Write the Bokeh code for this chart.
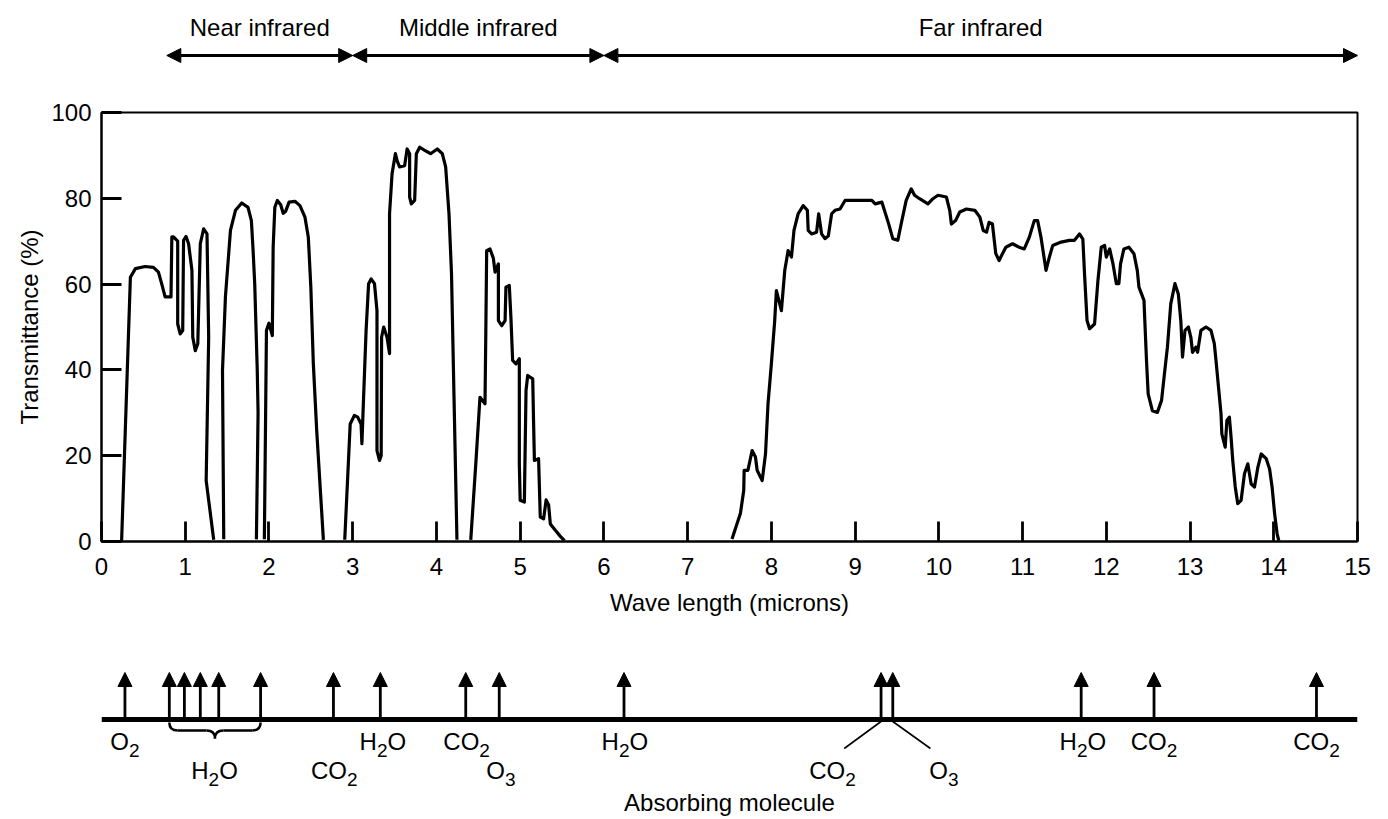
from bokeh.plotting import figure
from bokeh.layouts import column
from bokeh.models import Range1d, FixedTicker, Arrow, NormalHead, ColumnDataSource, Span
from bokeh.core.properties import value
from bokeh.embed import file_html
from bokeh.resources import INLINE

FONT = "Liberation Sans"

# ---------------- data ----------------
# transmittance curve, as separate pieces (microns, %)
seg1_wl = [0.24, 0.345, 0.405, 0.52, 0.62, 0.68, 0.72, 0.76, 0.83, 0.84, 0.86, 0.91, 0.91, 0.94, 0.97,
           0.98, 1.01, 1.04, 1.08, 1.09, 1.12, 1.15, 1.18, 1.22, 1.26, 1.28, 1.25, 1.34]
seg1_tr = [0, 61.6, 63.6, 64.1, 63.9, 62.8, 60, 57, 57, 71, 71, 70, 50.7, 48.4, 49.2,
           70.2, 71.1, 69.4, 63.2, 47.6, 44.5, 46.1, 69.4, 72.9, 71.7, 47.6, 14.2, 0.4]

seg2_wl = [1.46, 1.445, 1.48, 1.54, 1.60, 1.675, 1.75, 1.79, 1.81, 1.83, 1.86, 1.87, 1.85]
seg2_tr = [0.5, 39.9, 57, 72.5, 77.2, 78.9, 77.9, 74.8, 68, 60, 40, 30, 0.5]

seg3_wl = [1.945, 1.97, 2.0, 2.04, 2.05, 2.07, 2.10, 2.14, 2.17, 2.20, 2.24, 2.31, 2.37, 2.43, 2.47,
           2.50, 2.53, 2.57, 2.65]
seg3_tr = [0.5, 49.2, 50.9, 48, 68.6, 77.9, 79.5, 78.5, 76.5, 77, 79.1, 79.3, 78.3, 75.6, 70.9,
           59.3, 41.4, 25.9, 0.4]

seg4_wl = [2.905, 2.97, 3.02, 3.06, 3.10, 3.11, 3.13, 3.16, 3.19, 3.22, 3.26, 3.29, 3.29, 3.32, 3.34,
           3.345, 3.37, 3.41, 3.44, 3.44, 3.47, 3.51, 3.53, 3.56, 3.62, 3.65, 3.68, 3.68, 3.70, 3.74,
           3.76, 3.80, 3.86, 3.93, 4.01, 4.07, 4.11, 4.15, 4.18, 4.21, 4.245]
seg4_tr = [0.4, 27.4, 29.4, 29, 27.4, 22.8, 33.6, 49.2, 60.1, 61.2, 60.1, 53.8, 21.2, 18.9, 20,
           47.6, 50, 47.6, 43.8, 76.4, 85.7, 90.4, 88.8, 87.3, 87.6, 91.5, 90.4, 80.3, 78.7, 79.5,
           90.4, 91.9, 91.2, 90.4, 91.5, 90.4, 87.3, 76.4, 62.4, 33.6, 0.4]

seg5_wl = [4.41, 4.47, 4.52, 4.58, 4.59, 4.60, 4.64, 4.68, 4.70, 4.74, 4.74, 4.78, 4.82, 4.83, 4.87,
           4.89, 4.91, 4.95, 4.99, 4.99, 5.0, 5.05, 5.07, 5.09, 5.15, 5.16, 5.17, 5.22, 5.24, 5.28,
           5.31, 5.34, 5.36, 5.42, 5.48, 5.53]
seg5_tr = [0.4, 18.1, 33.6, 32.1, 49.2, 67.8, 68.2, 66, 62.8, 64.7, 51.5, 50.3, 51.5, 59.3, 59.7,
           52, 42.2, 41.4, 42.6, 18.1, 9.6, 9.2, 35.2, 38.7, 37.9, 28, 18.9, 19.3, 5.7, 5.3,
           9.7, 8.5, 4.1, 2.6, 1.2, 0.2]

far_wl = [7.53, 7.63, 7.67, 7.675, 7.72, 7.77, 7.81, 7.83, 7.87, 7.89, 7.93, 7.96, 8.0, 8.04, 8.06,
          8.12, 8.16, 8.20, 8.24, 8.27, 8.32, 8.38, 8.43, 8.44, 8.48, 8.54, 8.565, 8.60, 8.64, 8.68,
          8.72, 8.76, 8.82, 8.88, 8.98, 9.10, 9.20, 9.24, 9.32, 9.35, 9.40, 9.45, 9.51, 9.55, 9.61,
          9.67, 9.71, 9.77, 9.87, 9.93, 9.99, 10.09, 10.13, 10.15, 10.20, 10.25, 10.33, 10.43, 10.49, 10.53,
          10.57, 10.60, 10.64, 10.68, 10.72, 10.76, 10.80, 10.88, 10.96, 11.02, 11.08, 11.14, 11.18, 11.22, 11.28,
          11.32, 11.36, 11.46, 11.56, 11.62, 11.68, 11.72, 11.74, 11.77, 11.80, 11.86, 11.90, 11.94, 11.98, 12.00,
          12.04, 12.08, 12.12, 12.15, 12.17, 12.21, 12.27, 12.33, 12.37, 12.39, 12.45, 12.46, 12.48, 12.50, 12.55,
          12.61, 12.66, 12.69, 12.73, 12.77, 12.82, 12.86, 12.89, 12.91, 12.94, 12.98, 13.01, 13.03, 13.07, 13.09,
          13.13, 13.19, 13.25, 13.29, 13.31, 13.34, 13.37, 13.38, 13.42, 13.44, 13.47, 13.49, 13.51, 13.54, 13.57,
          13.61, 13.65, 13.69, 13.73, 13.77, 13.81, 13.85, 13.91, 13.95, 13.98, 14.01, 14.04, 14.06]
far_tr = [0.6, 6.5, 11.9, 16.6, 16.6, 21.2, 19.7, 16.6, 15.0, 14.2, 20.4, 32.1, 41.4, 51.5, 58.5,
          53.8, 63.2, 67.8, 66.3, 72.5, 76.4, 78.3, 77.2, 72.5, 71.7, 72.1, 76.4, 71.7, 70.6, 71.2,
          76.4, 77.2, 77.5, 79.5, 79.5, 79.5, 79.5, 78.7, 79.1, 77.2, 74.1, 70.6, 70.2, 74.0, 79.5,
          82.2, 80.7, 79.9, 78.7, 79.9, 80.7, 80.3, 77.2, 74.0, 74.8, 76.8, 77.5, 77.2, 75.6, 72.5,
          72.1, 74.4, 74.0, 67.1, 65.5, 67.1, 68.6, 69.4, 68.6, 68.2, 70.9, 74.8, 74.8, 70.9, 63.2,
          66.3, 69.0, 69.8, 70.2, 70.2, 71.7, 70.5, 62.4, 51.5, 49.6, 50.7, 60.8, 68.6, 69.0, 66.3,
          68.2, 64.7, 60.1, 60.1, 64.7, 68.2, 68.6, 67.1, 63.2, 59.3, 56.2, 51.5, 42.2, 34.4, 30.5,
          30.1, 32.9, 38.3, 45.3, 55.4, 60.1, 57.7, 51.5, 43.0, 49.2, 50.0, 47.6, 44.1, 45.3, 44.1,
          49.2, 50.0, 49.2, 46.1, 42.2, 36.0, 29.8, 25.1, 22.0, 28.2, 29.0, 24.3, 18.9, 12.7, 8.8,
          9.6, 15.8, 18.1, 13.4, 12.7, 17.3, 20.4, 19.3, 16.9, 12.7, 6.5, 1.8, 0.2]

x_ticks = list(range(0, 16))
y_ticks = [0, 20, 40, 60, 80, 100]

# infrared regions (microns)
region_names = ["Near infrared", "Middle infrared", "Far infrared"]
region_start = [0.78, 3.0, 6.0]
region_end = [3.0, 6.0, 15.0]

# absorption arrows (microns)
absorb_x = [0.28, 0.81, 0.99, 1.18, 1.40, 1.90, 2.77, 3.33, 4.35, 4.75, 6.24,
            9.31, 9.45, 11.70, 12.57, 14.51]
# molecule labels (digits are set as subscripts)
mol_text = ["O2", "H2O", "CO2", "H2O", "CO2", "O3", "H2O", "CO2", "O3", "H2O", "CO2", "CO2"]
mol_x = [0.28, 1.35, 2.78, 3.36, 4.36, 4.77, 6.25, 8.73, 10.06, 11.72, 12.57, 14.51]
mol_row = [0, 1, 1, 0, 0, 1, 0, 1, 1, 0, 0, 0]
# H2O group marked with a brace (indices into absorb_x)
brace_first, brace_last = 1, 5
# leader lines from arrows to labels (arrow index, label index, side offset)
leaders = [(11, 7, +0.14), (12, 8, -0.16)]

# ---------------- common ----------------
W = 1376
xr = Range1d(0, 15)
common = dict(width=W, x_range=xr, output_backend="svg", toolbar_location=None,
              min_border_left=101, min_border_right=19)

# ---------------- top figure: regions ----------------
top = figure(height=100, y_range=Range1d(100, 0), x_axis_location=None, y_axis_location=None,
             min_border_top=0, min_border_bottom=0, **common)
top.outline_line_color = None
top.grid.visible = False
rsrc = ColumnDataSource(dict(x0=region_start, x1=region_end, y=[55] * 3,
                             xm=[(a + b) / 2 for a, b in zip(region_start, region_end)],
                             yt=[27] * 3, name=region_names))
top.add_layout(Arrow(start=NormalHead(size=14, fill_color="black", line_color="black", line_width=1),
                     end=NormalHead(size=14, fill_color="black", line_color="black", line_width=1),
                     x_start="x0", y_start="y", x_end="x1", y_end="y", source=rsrc,
                     line_width=2.8, line_color="black"))
top.text(x="xm", y="yt", text="name", source=rsrc, text_font=value(FONT), text_font_size="24px",
         text_align="center", text_baseline="middle", text_color="black")

# ---------------- main figure ----------------
p = figure(height=540, y_range=Range1d(0, 100), min_border_top=12, min_border_bottom=99, **common)
p.multi_line(xs=[seg1_wl, seg2_wl, seg3_wl, seg4_wl, seg5_wl, far_wl],
             ys=[seg1_tr, seg2_tr, seg3_tr, seg4_tr, seg5_tr, far_tr],
             line_color="black", line_width=3.2, line_join="round")
p.grid.visible = False
p.outline_line_color = "black"
p.outline_line_width = 2
p.xaxis.ticker = FixedTicker(ticks=x_ticks)
p.yaxis.ticker = FixedTicker(ticks=y_ticks)
for ax in (p.xaxis, p.yaxis):
    ax.major_tick_in = 20
    ax.major_tick_out = 0
    ax.minor_tick_line_color = None
    ax.major_tick_line_width = 2.8
    ax.major_tick_line_color = "black"
    ax.axis_line_width = 2
    ax.axis_line_color = "black"
    ax.major_label_text_font = FONT
    ax.major_label_text_font_size = "24px"
    ax.major_label_text_color = "black"
    ax.axis_label_text_font = FONT
    ax.axis_label_text_font_size = "24px"
    ax.axis_label_text_font_style = "normal"
    ax.axis_label_text_color = "black"
p.xaxis.axis_label = "Wave length (microns)"
p.yaxis.axis_label = "Transmittance (%)"
p.xaxis.major_label_standoff = 16
p.xaxis.axis_label_standoff = 11
p.yaxis.major_label_standoff = 10
p.yaxis.axis_label_standoff = 5

# ---------------- bottom figure: absorbing molecules ----------------
bot = figure(height=176, y_range=Range1d(816, 640), x_axis_location=None, y_axis_location=None,
             min_border_top=0, min_border_bottom=0, **common)
bot.outline_line_color = None
bot.grid.visible = False
bot.add_layout(Span(location=719, dimension="width", line_color="black", line_width=5))
asrc = ColumnDataSource(dict(x=absorb_x, y0=[717] * len(absorb_x), y1=[672] * len(absorb_x)))
bot.add_layout(Arrow(end=NormalHead(size=14, fill_color="black", line_color="black", line_width=1),
                     x_start="x", y_start="y0", x_end="x", y_end="y1", source=asrc,
                     line_width=2.8, line_color="black"))

# molecule labels with subscripted digits, laid out with Liberation Sans advance widths
BASE_PX, SUB_PX, SUB_DROP = 24, 19, 9
adv = {"O": 0.778, "H": 0.722, "C": 0.722, "2": 0.556, "3": 0.556}
base_rows = dict(x=[], y=[], t=[], dx=[])
sub_rows = dict(x=[], y=[], t=[], dx=[])
for txt, mx, row in zip(mol_text, mol_x, mol_row):
    yc = 741 if row == 0 else 770
    pieces = []
    for ch in txt:
        is_sub = ch.isdigit()
        if pieces and pieces[-1][1] == is_sub:
            pieces[-1][0] += ch
        else:
            pieces.append([ch, is_sub])
    widths = [sum(adv[c] for c in s) * (SUB_PX if sub else BASE_PX) for s, sub in pieces]
    off = -sum(widths) / 2
    for (s, sub), w in zip(pieces, widths):
        dst = sub_rows if sub else base_rows
        dst["x"].append(mx)
        dst["y"].append(yc)
        dst["t"].append(s)
        dst["dx"].append(off)
        off += w
bot.text(x="x", y="y", text="t", x_offset="dx", source=ColumnDataSource(base_rows),
         text_font=value(FONT), text_font_size=f"{BASE_PX}px", text_align="left",
         text_baseline="middle", text_color="black")
bot.text(x="x", y="y", text="t", x_offset="dx", y_offset=SUB_DROP, source=ColumnDataSource(sub_rows),
         text_font=value(FONT), text_font_size=f"{SUB_PX}px", text_align="left",
         text_baseline="middle", text_color="black")
bot.text(x=[(xr.start + xr.end) / 2], y=[802], text=["Absorbing molecule"], text_font=value(FONT),
         text_font_size="24px", text_align="center", text_baseline="middle", text_color="black")

# leader lines
lx0 = [absorb_x[a] for a, l, o in leaders]
lx1 = [mol_x[l] + o for a, l, o in leaders]
bot.segment(x0=lx0, y0=[721] * len(lx0), x1=lx1, y1=[748] * len(lx1), line_color="black", line_width=1.6)

# brace under the H2O group
b0, b1 = absorb_x[brace_first], absorb_x[brace_last]
bm = (b0 + b1) / 2
d = 0.1
yt, yh, yp = 722, 730, 738
bot.quadratic(x0=[b0, bm - d, bm, b1], y0=[yt, yh, yp, yt],
              x1=[b0 + d, bm, bm + d, b1 - d], y1=[yh, yp, yh, yh],
              cx=[b0, bm, bm, b1], cy=[yh, yh, yh, yh], line_color="black", line_width=2.5)
bot.segment(x0=[b0 + d, bm + d], y0=[yh, yh], x1=[bm - d, b1 - d], y1=[yh, yh],
            line_color="black", line_width=2.5)

layout = column(top, p, bot, spacing=0)
open("out.html", "w").write(file_html(layout, INLINE))
